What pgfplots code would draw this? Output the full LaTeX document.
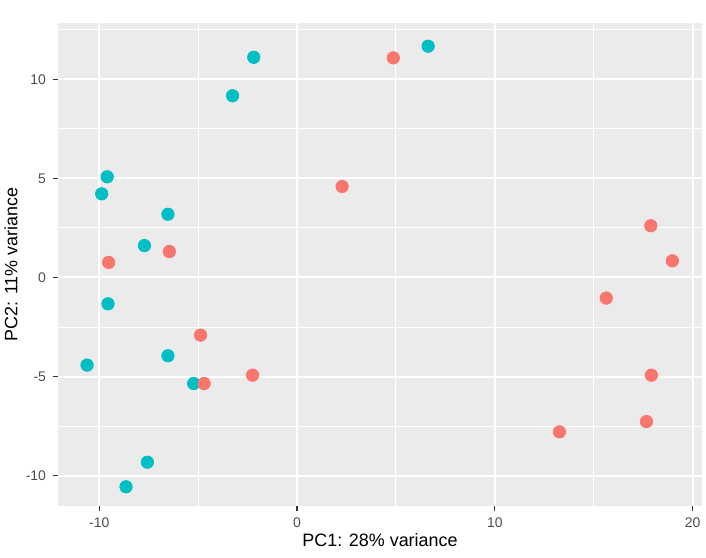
\documentclass[border=0pt]{standalone}
\usepackage{fontspec}
\setmainfont{Liberation Sans}
\usepackage{pgfplots}
\pgfplotsset{compat=1.18}
\usetikzlibrary{calc}

\definecolor{ggred}{HTML}{F8766D}
\definecolor{ggteal}{HTML}{00BFC4}
\definecolor{ggpanel}{HTML}{EBEBEB}
\definecolor{ggtext}{HTML}{4D4D4D}
\definecolor{ggtick}{HTML}{333333}

\begin{document}
\begin{tikzpicture}
\begin{axis}[
    name=ax,
    width=322bp, height=241.5bp, scale only axis,
    xmin=-12.09, xmax=20.48, ymin=-11.53, ymax=12.84,
    axis background/.style={fill=ggpanel},
    axis line style={draw=none},
    xtick={-10,0,10,20}, xticklabels={-10,0,10,20},
    ytick={-10,-5,0,5,10}, yticklabels={-10,-5,0,5,10},
    minor xtick={-5,5,15}, minor ytick={-7.5,-2.5,2.5,7.5,12.5},
    grid=both,
    major grid style={white, line width=1bp},
    minor grid style={white, line width=0.5bp},
    tick align=outside, tick pos=left,
    major tick length=2.5bp, minor tick length=0pt,
    every tick/.append style={ggtick, line width=0.6bp},
    tick label style={font=\fontsize{7}{8}\selectfont, text=ggtext},
    label style={font=\fontsize{9}{10}\selectfont},
    xlabel={PC1: 28\% variance},
    ylabel={PC2: 11\% variance},
    xlabel style={at={(axis description cs:0.5,-0.07)}, anchor=center},
    ylabel style={at={(axis description cs:-0.073,0.5)}, anchor=center},
]
% group 1 (teal)
\addplot[only marks, mark=*, mark size=3.1bp, mark options={fill=ggteal, draw=ggteal}] coordinates {
    (-2.19,11.11) (-3.26,9.17) (-9.60,5.08) (-9.88,4.22) (-6.53,3.19)
    (-7.72,1.61) (6.63,11.67) (-9.56,-1.33) (-6.53,-3.95) (-10.62,-4.42)
    (-5.23,-5.35) (-7.57,-9.32) (-8.65,-10.56)
};
% group 2 (red)
\addplot[only marks, mark=*, mark size=3.1bp, mark options={fill=ggred, draw=ggred}] coordinates {
    (-6.46,1.31) (-9.53,0.76) (2.28,4.59) (4.87,11.08) (17.89,2.61)
    (18.98,0.84) (-4.88,-2.91) (-4.70,-5.35) (-2.25,-4.93) (15.64,-1.04)
    (17.92,-4.93) (17.67,-7.27) (13.27,-7.79)
};
\end{axis}
\pgfresetboundingbox
\path ($(ax.south west)+(-29bp,-26bp)$) rectangle ($(ax.north east)+(2bp,11.5bp)$);
\end{tikzpicture}
\end{document}
